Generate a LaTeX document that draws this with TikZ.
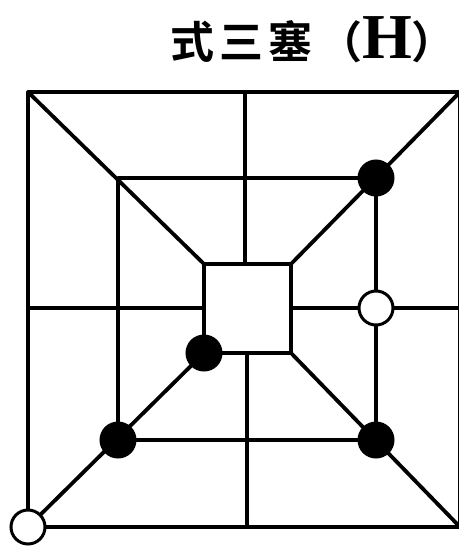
\documentclass[tikz,border=0pt]{standalone}
\usepackage{fontspec}
\usepackage{tikz}
\newfontfamily\cjkfont[LetterSpace=12]{Noto Sans CJK SC Bold}
\newfontfamily\hfont{Liberation Serif}

\begin{document}
\begin{tikzpicture}[x=1pt, y=-1pt,
    board/.style={draw=black, line width=3.8pt, line cap=round, line join=round},
    blackpiece/.style={circle, draw=black, fill=black, line width=2pt, minimum size=35pt, inner sep=0pt},
    whitepiece/.style={circle, draw=black, fill=white, line width=3pt, minimum size=34pt, inner sep=0pt},
    title/.style={anchor=east, inner sep=0pt, font=\fontsize{44}{48}\selectfont}
]
    \useasboundingbox (0,0) rectangle (458,546);

    % Points of the board
    \coordinate (o1) at (28,92);   \coordinate (o2) at (460,92);
    \coordinate (o3) at (460,527); \coordinate (o4) at (28,527);
    \coordinate (m1) at (118,178); \coordinate (m2) at (376,178);
    \coordinate (m3) at (376,440); \coordinate (m4) at (118,440);
    \coordinate (i1) at (204,264); \coordinate (i2) at (291,264);
    \coordinate (i3) at (291,353); \coordinate (i4) at (204,353);
    \coordinate (ot) at (245,92);  \coordinate (ob) at (247,527);
    \coordinate (ol) at (28,308);  \coordinate (or) at (460,308);
    \coordinate (it) at (245,264); \coordinate (ib) at (247,353);
    \coordinate (il) at (204,308); \coordinate (ir) at (291,308);
    \coordinate (mr) at (376,308);

    % Title
    \node[title] (caption) at (434,40) {\cjkfont 式三塞（{\hfont\bfseries\fontsize{64}{66}\selectfont H}）\kern-0.5em};

    % Squares
    \draw[board] (o1) -- (o2) -- (o3) -- (o4) -- cycle;
    \draw[board] (m1) -- (m2) -- (m3) -- (m4) -- cycle;
    \draw[board] (i1) -- (i2) -- (i3) -- (i4) -- cycle;

    % Cross lines and diagonals
    \foreach \a/\b in {ot/it, ib/ob, ol/il, ir/or, o1/i1, o2/i2, o3/i3, o4/i4}
        \draw[board] (\a) -- (\b);

    % Pieces
    \node[blackpiece] (b1) at (m2) {};
    \node[blackpiece] (b2) at (i4) {};
    \node[blackpiece] (b3) at (m4) {};
    \node[blackpiece] (b4) at (m3) {};
    \node[whitepiece] (w1) at (mr) {};
    \node[whitepiece] (w2) at (o4) {};
\end{tikzpicture}
\end{document}
